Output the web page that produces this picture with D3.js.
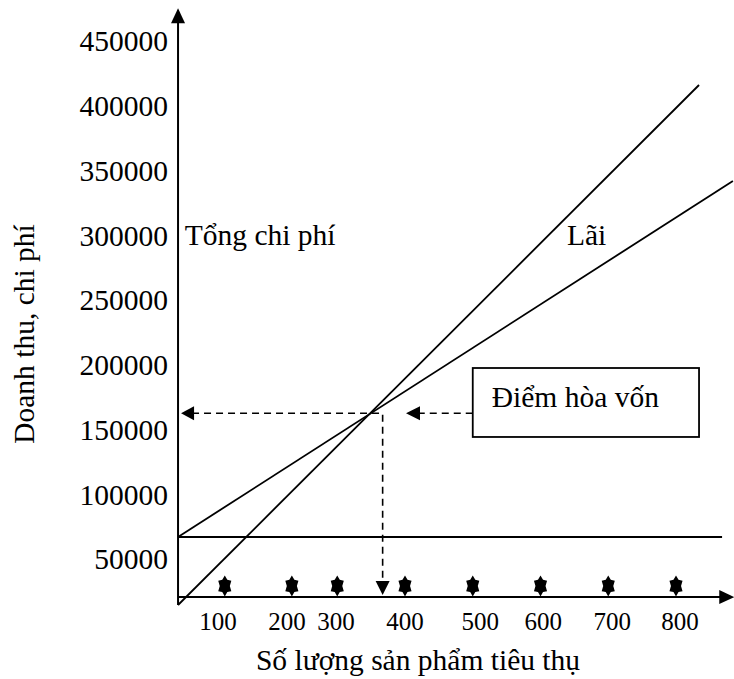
<!DOCTYPE html>
<html>
<head>
<meta charset="utf-8">
<script src="https://cdn.jsdelivr.net/npm/d3@7"></script>
<style>
  html, body { margin: 0; padding: 0; background: #fff; }
  text { font-family: "Liberation Serif", "Times New Roman", serif; fill: #000; }
</style>
</head>
<body>
<script>
// ---- data ----
const yTickValues = [50000, 100000, 150000, 200000, 250000, 300000, 350000, 400000, 450000];
const xTickLabels = ["100", "200", "300", "400", "500", "600", "700", "800"];
const xLabelPos   = [124, 226, 298, 400, 511, 604, 706, 806];
const markerX     = [134, 233, 300, 400, 500, 600, 700, 800];
const markerValue = 30000;
const revenueLine   = [{q: 65, v: 15250}, {q: 834, v: 416800}];
const totalCostLine = [{q: 65, v: 67760}, {q: 884, v: 342700}];
const fixedCostLine = [{q: 65, v: 67760}, {q: 868, v: 67760}];
const breakEven = {q: 349.5, v: 163300};
const axisOrigin = {q: 65, v: 21400};
const axisEnd = {q: 886, v: 476000};
const labels = {
  yTitle: "Doanh thu, chi phí",
  xTitle: "Số lượng sản phẩm tiêu thụ",
  totalCost: "Tổng chi phí",
  profit: "Lãi",
  breakEven: "Điểm hòa vốn"
};

// ---- drawing ----
const W = 734, H = 679;
const svg = d3.select("body").append("svg").attr("width", W).attr("height", H);
const x = d3.scaleLinear().domain([0, 800]).range([134, 676]);
const y = d3.scaleLinear().domain([50000, 450000]).range([560, 42]);
const FS = 29.5;
const line = d3.line().x(d => x(d.q)).y(d => y(d.v));

// y tick labels
svg.append("g").selectAll("text").data(yTickValues).join("text")
  .attr("x", 168).attr("y", d => y(d)).attr("dy", "0.32em")
  .attr("text-anchor", "end").attr("font-size", FS)
  .text(d => d);

// x tick labels
svg.append("g").selectAll("text").data(xTickLabels).join("text")
  .attr("x", (d, i) => x(xLabelPos[i])).attr("y", 630)
  .attr("text-anchor", "middle").attr("font-size", 25)
  .text(d => d);

// axes
const x0 = x(axisOrigin.q), y0 = y(axisOrigin.v);
const yTop = y(axisEnd.v), xRight = x(axisEnd.q);
svg.append("line").attr("x1", x0).attr("x2", x0)
  .attr("y1", y(revenueLine[0].v)).attr("y2", yTop + 10)
  .attr("stroke", "#000").attr("stroke-width", 2);
svg.append("path").attr("d", `M${x0},${yTop} L${x0 - 7},${yTop + 15} L${x0 + 7},${yTop + 15} Z`).attr("fill", "#000");
svg.append("line").attr("x1", x0).attr("x2", xRight - 10)
  .attr("y1", y0).attr("y2", y0)
  .attr("stroke", "#000").attr("stroke-width", 2);
svg.append("path").attr("d", `M${xRight},${y0} L${xRight - 15},${y0 - 7} L${xRight - 15},${y0 + 7} Z`).attr("fill", "#000");

// lines
[revenueLine, totalCostLine, fixedCostLine].forEach(dl => {
  svg.append("path").attr("d", line(dl)).attr("fill", "none")
    .attr("stroke", "#000").attr("stroke-width", 1.8);
});

// markers (six-pointed stars)
function star6(ro, ri) {
  const pts = d3.range(12).map(k => {
    const t = k * Math.PI / 6;
    const r = k % 2 === 0 ? ro : ri;
    return [r * Math.sin(t), -r * Math.cos(t)];
  });
  return "M" + pts.join("L") + "Z";
}
svg.append("g").selectAll("path").data(markerX).join("path")
  .attr("transform", d => `translate(${x(d)},${y(markerValue)}) scale(0.72,1)`)
  .attr("d", star6(10.5, 7)).attr("fill", "#000");

// break-even dashed guides
const bx = x(breakEven.q), by = y(breakEven.v);
const cornerX = x(367);
svg.append("path")
  .attr("d", `M${x0 + 14},${by} L${cornerX},${by} L${cornerX},${y0 - 14}`)
  .attr("fill", "none").attr("stroke", "#000").attr("stroke-width", 1.6)
  .attr("stroke-dasharray", "7,5");
svg.append("path").attr("d", `M${x0 + 3},${by} L${x0 + 16},${by - 7} L${x0 + 16},${by + 7} Z`).attr("fill", "#000");
svg.append("path").attr("d", `M${cornerX},${y0 - 2} L${cornerX - 7},${y0 - 16} L${cornerX + 7},${y0 - 16} Z`).attr("fill", "#000");

// break-even box
const boxL = x(500), boxR = x(834), boxT = y(198260), boxB = y(145000);
svg.append("rect").attr("x", boxL).attr("y", boxT)
  .attr("width", boxR - boxL).attr("height", boxB - boxT)
  .attr("fill", "#fff").attr("stroke", "#000").attr("stroke-width", 1.8);
svg.append("text").attr("x", boxL + 19).attr("y", 407)
  .attr("font-size", FS).text(labels.breakEven);
const arrowTip = x(401.5);
svg.append("line").attr("x1", boxL).attr("x2", arrowTip + 12)
  .attr("y1", by).attr("y2", by)
  .attr("stroke", "#000").attr("stroke-width", 1.6).attr("stroke-dasharray", "7,5");
svg.append("path").attr("d", `M${arrowTip},${by} L${arrowTip + 14},${by - 7} L${arrowTip + 14},${by + 7} Z`).attr("fill", "#000");

// annotations
svg.append("text").attr("x", x(75)).attr("y", 245).attr("font-size", FS).text(labels.totalCost);
svg.append("text").attr("x", x(639)).attr("y", 245).attr("font-size", FS).text(labels.profit);

// titles
svg.append("text").attr("transform", `translate(34, 334) rotate(-90)`)
  .attr("text-anchor", "middle").attr("font-size", FS).text(labels.yTitle);
svg.append("text").attr("x", 418).attr("y", 670)
  .attr("text-anchor", "middle").attr("font-size", FS).text(labels.xTitle);
</script>
</body>
</html>
